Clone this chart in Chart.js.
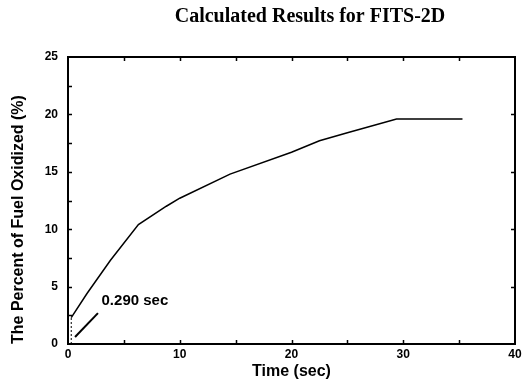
<!DOCTYPE html>
<html>
<head>
<meta charset="utf-8">
<script src="https://cdn.jsdelivr.net/npm/chart.js@4.4.1/dist/chart.umd.min.js"></script>
<style>
  html, body { margin: 0; padding: 0; background: #fff; }
  #wrap { width: 522px; height: 381px; }
</style>
</head>
<body>
<div id="wrap"><canvas id="chart"></canvas></div>
<script>
// data
const timeSec   = [0.29, 0.29, 1.7, 3.8, 6.3, 8.8, 10, 14.5, 20, 22.5, 25, 29.4, 35.3];
const pctFuel   = [0, 2.3, 4.4, 7.3, 10.4, 12.0, 12.7, 14.8, 16.7, 17.7, 18.4, 19.6, 19.6];
// annotation arrow + label
const arrowT    = [2.68, 0.63];
const arrowP    = [2.69, 0.61];
const noteText  = "0.290 sec";
const noteAt    = [3.0, 3.8];
const xTicks    = [0, 10, 20, 30, 40];
const yTicks    = [0, 5, 10, 15, 20, 25];

const curve = timeSec.map((t, i) => ({ x: t, y: pctFuel[i] }));
const arrow = arrowT.map((t, i) => ({ x: t, y: arrowP[i] }));

// frame, inward ticks, title and note
const framePlugin = {
  id: "frame",
  afterDraw(chart) {
    const { ctx, chartArea: a, scales: { x, y } } = chart;
    ctx.save();
    ctx.strokeStyle = "#000";
    ctx.lineWidth = 2;
    ctx.strokeRect(a.left, a.top, a.right - a.left, a.bottom - a.top);

    ctx.lineWidth = 1.5;
    ctx.beginPath();
    for (let v = 5; v < 40; v += 5) {
      const px = Math.round(x.getPixelForValue(v)) + 0.5;
      ctx.moveTo(px, a.bottom); ctx.lineTo(px, a.bottom - 4);
      ctx.moveTo(px, a.top);    ctx.lineTo(px, a.top + 4);
    }
    for (let v = 2.5; v < 25; v += 2.5) {
      const py = Math.round(y.getPixelForValue(v)) + 0.5;
      ctx.moveTo(a.left, py); ctx.lineTo(a.left + 4, py);
      if (v % 5 === 0) { ctx.moveTo(a.right, py); ctx.lineTo(a.right - 4, py); }
    }
    ctx.stroke();

    ctx.fillStyle = "#000";
    ctx.font = "bold 15px 'Liberation Sans', Arial, sans-serif";
    ctx.textBaseline = "middle";
    ctx.textAlign = "left";
    ctx.fillText(noteText, x.getPixelForValue(noteAt[0]), y.getPixelForValue(noteAt[1]));

    ctx.font = "bold 20px 'Liberation Serif', 'Times New Roman', serif";
    ctx.textAlign = "center";
    ctx.fillText("Calculated Results for FITS-2D", 310, 17);
    ctx.restore();
  }
};

const tickFont = { family: "'Liberation Sans', Arial, sans-serif", size: 12, weight: "bold" };
const titleFont = { family: "'Liberation Sans', Arial, sans-serif", size: 16, weight: "bold" };

new Chart(document.getElementById("chart"), {
  type: "scatter",
  data: {
    datasets: [
      {
        data: curve, showLine: true, borderColor: "#000", borderWidth: 1.5,
        pointRadius: 0, tension: 0,
        segment: { borderDash: c => c.p0DataIndex === 0 ? [2, 2] : undefined,
                   borderWidth: c => c.p0DataIndex === 0 ? 1 : 1.5 }
      },
      { data: arrow, showLine: true, borderColor: "#000", borderWidth: 2, pointRadius: 0 }
    ]
  },
  options: {
    responsive: true,
    maintainAspectRatio: false,
    animation: false,
    layout: { padding: { top: 57, right: 0, left: 4, bottom: 0 } },
    plugins: { legend: { display: false }, tooltip: { enabled: false } },
    scales: {
      x: {
        type: "linear", min: 0, max: 40,
        afterBuildTicks: s => { s.ticks = xTicks.map(v => ({ value: v })); },
        afterFit: s => { s.height = 37; s.paddingRight = 7; s.paddingLeft = 0; },
        grid: { display: false, drawTicks: false },
        border: { display: false },
        ticks: { color: "#000", font: tickFont, padding: 3, maxRotation: 0 },
        title: { display: true, text: "Time (sec)", color: "#000", font: titleFont, padding: { top: 0, bottom: 0 } }
      },
      y: {
        type: "linear", min: 0, max: 25,
        afterBuildTicks: s => { s.ticks = yTicks.map(v => ({ value: v })); },
        afterFit: s => { s.width = 64; },
        grid: { display: false, drawTicks: false },
        border: { display: false },
        ticks: { color: "#000", font: tickFont, padding: 10 },
        title: { display: true, text: "The Percent of Fuel Oxidized (%)", color: "#000", font: titleFont,
                 align: "start", padding: { top: 5, bottom: 0 } }
      }
    }
  },
  plugins: [framePlugin]
});
</script>
</body>
</html>
